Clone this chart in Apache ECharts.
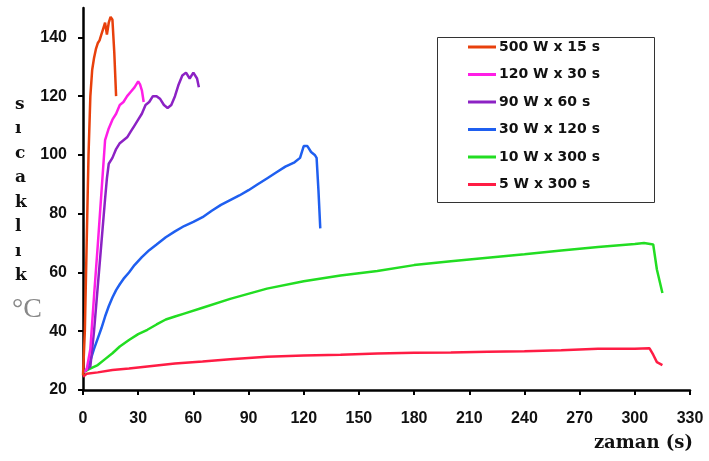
<!DOCTYPE html>
<html>
<head>
<meta charset="utf-8">
<script src="https://cdn.jsdelivr.net/npm/echarts@6/dist/echarts.min.js"></script>
<style>
  html, body { margin: 0; padding: 0; background: #fff; }
  #chart { width: 709px; height: 461px; }
</style>
</head>
<body>
<div id="chart"></div>
<script>
// seriler: [zaman (s), sıcaklık (°C)]
const seriesNames = ['500 W x 15 s', '120 W x 30 s', '90 W x 60 s', '30 W x 120 s', '10 W x 300 s', '5 W x 300 s']
const seriesColors = ['#e8400c', '#ff1ee6', '#8c22c4', '#1f5ff0', '#22dd22', '#ff1c44']

const w500 = [[0, 25], [1, 40], [2, 70], [3, 100], [4, 120], [5, 129], [6, 133], [7, 136], [8, 138], [9, 139], [10, 141], [11, 143], [12, 145], [13, 141], [14, 145], [15, 147], [16, 146], [17, 135], [18, 120]]
const w120 = [[0, 26], [2, 27], [4, 34], [6, 52], [8, 69], [10, 87], [12, 105], [14, 109], [16, 112], [18, 114], [20, 117], [22, 118], [24, 120], [26, 121.5], [28, 123], [30, 125], [31, 124], [32, 122], [33, 118]]
const w90 = [[0, 26], [2, 27], [4, 28], [6, 40], [8, 55], [10, 70], [12, 85], [13, 92], [14, 97], [16, 99], [18, 102], [20, 104], [22, 105], [24, 106], [26, 108], [28, 110], [30, 112], [32, 114], [34, 117], [36, 118], [38, 120], [40, 120], [42, 119], [44, 117], [46, 116], [48, 117], [50, 120], [52, 124], [54, 127], [56, 128], [58, 126], [60, 128], [62, 126], [63, 123]]
const w30 = [[0, 26], [2, 27], [4, 30], [6, 34], [8, 37.5], [10, 41], [12, 45], [14, 48.5], [16, 51.5], [18, 54], [20, 56], [22, 57.8], [25, 60], [28, 62.5], [32, 65.2], [36, 67.6], [40, 69.5], [45, 72], [50, 74], [55, 75.8], [60, 77.2], [65, 78.8], [70, 81], [75, 83], [80, 84.6], [85, 86.2], [90, 88], [95, 90], [100, 92], [105, 94], [110, 96], [115, 97.5], [118, 99], [120, 103], [122, 103], [124, 101], [126, 100], [127, 99], [128, 88], [129, 75]]
const w10 = [[0, 26], [3, 27], [8, 28.5], [12, 30.5], [16, 32.5], [20, 34.8], [25, 37], [30, 39], [35, 40.5], [40, 42.3], [45, 44], [50, 45], [55, 46], [65, 48], [80, 51], [100, 54.5], [120, 57], [140, 59], [160, 60.5], [180, 62.5], [200, 63.8], [220, 65], [240, 66.2], [260, 67.5], [280, 68.7], [300, 69.7], [305, 70], [310, 69.5], [312, 61], [315, 53]]
const w5 = [[0, 24.5], [2, 25.5], [8, 26], [16, 26.8], [25, 27.3], [35, 28], [50, 29], [65, 29.7], [80, 30.5], [100, 31.3], [120, 31.7], [140, 32], [160, 32.4], [180, 32.7], [200, 32.8], [220, 33], [240, 33.2], [260, 33.5], [280, 34], [300, 34], [308, 34.2], [310, 32], [312, 29.5], [315, 28.5]]
const seriesData = [w500, w120, w90, w30, w10, w5]

const xTicks = { min: 0, max: 330, interval: 30 }
const yTicks = { min: 20, max: 150, interval: 20 }

const chart = echarts.init(document.getElementById('chart'))

const axisLabelStyle = {
  color: '#111',
  fontFamily: 'Liberation Sans',
  fontWeight: 'bold',
  fontSize: 16
}

const option = {
  backgroundColor: '#fff',
  animation: false,
  grid: { left: 83, right: 19, top: 8, bottom: 71 },
  legend: {
    orient: 'vertical',
    left: 468,
    top: 40,
    padding: 0,
    itemGap: 13.5,
    itemWidth: 28,
    itemHeight: 3,
    icon: 'rect',
    data: seriesNames,
    textStyle: {
      color: '#111',
      fontFamily: 'DejaVu Sans',
      fontWeight: 'bold',
      fontSize: 14,
      lineHeight: 14,
      padding: [0, 0, 0, -2]
    }
  },
  xAxis: {
    type: 'value',
    min: xTicks.min,
    max: xTicks.max,
    interval: xTicks.interval,
    axisLine: { lineStyle: { color: '#000', width: 2.5 } },
    axisTick: { show: true, length: 5, lineStyle: { color: '#000', width: 2 } },
    axisLabel: Object.assign({ margin: 21 }, axisLabelStyle),
    splitLine: { show: false }
  },
  yAxis: {
    type: 'value',
    min: yTicks.min,
    max: yTicks.max,
    interval: yTicks.interval,
    axisLine: { show: true, lineStyle: { color: '#000', width: 2.5 } },
    axisTick: { show: true, length: 5, lineStyle: { color: '#000', width: 2 } },
    axisLabel: Object.assign({ margin: 16, showMaxLabel: false }, axisLabelStyle),
    splitLine: { show: false }
  },
  graphic: [
    {
      // lejant çerçevesi
      type: 'rect',
      left: 435,
      top: 35,
      shape: { width: 217, height: 165 },
      style: { fill: 'none', stroke: '#333', lineWidth: 1 },
      z: 0
    },
    {
      type: 'text',
      left: 15,
      top: 92,
      style: {
        text: 's\nı\nc\na\nk\nl\nı\nk',
        font: 'bold 17px "DejaVu Serif"',
        lineHeight: 24.5,
        fill: '#111',
        align: 'center'
      }
    },
    {
      type: 'text',
      left: 12,
      top: 296,
      style: {
        text: '°C',
        font: '28px "Liberation Serif"',
        fill: '#888'
      }
    },
    {
      type: 'text',
      right: 16,
      top: 434,
      style: {
        text: 'zaman (s)',
        font: 'bold 18px "DejaVu Serif"',
        fill: '#111'
      }
    }
  ],
  series: seriesData.map((data, i) => ({
    name: seriesNames[i],
    type: 'line',
    data: data,
    showSymbol: false,
    symbol: 'none',
    z: 10 - i,
    lineStyle: { color: seriesColors[i], width: 2.5 },
    itemStyle: { color: seriesColors[i] }
  }))
}

chart.setOption(option)
</script>
</body>
</html>
